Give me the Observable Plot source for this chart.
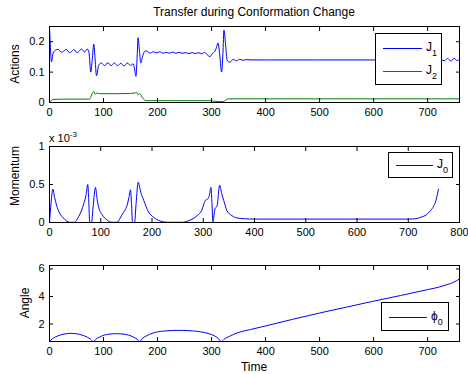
<!DOCTYPE html>
<html><head><meta charset="utf-8">
<script src="https://cdn.jsdelivr.net/npm/d3@7"></script>
<script src="https://cdn.jsdelivr.net/npm/@observablehq/plot@0.6"></script>
<style>
body{margin:0;background:#fff;}
#chart{position:relative;width:468px;height:374px;font-family:"Liberation Sans",Arial,Helvetica,sans-serif;color:#000;overflow:hidden;background:#fff}
.panel{position:absolute;left:0}
.txt{position:absolute;white-space:nowrap;line-height:1}
.rot{transform:translate(-50%,-50%) rotate(-90deg)}
.ctr{transform:translate(-50%,-50%)}
.legend{position:absolute;border:1px solid #000;background:#fff;box-sizing:border-box}
.lsvg{position:absolute;left:0;top:0;overflow:visible}
.ltxt{position:absolute;font-size:12px;line-height:1;white-space:nowrap}
.ltxt sub{font-size:9px;vertical-align:-5px}
</style></head><body><div id="chart"></div>
<script>
// ---- data ----
const titleText = "Transfer during Conformation Change";
const xLabel = "Time";
const yLabels = ["Actions", "Momentum", "Angle"];

const timeJ1 = [0,1.5,3.7,6.8,11,16,22,27,31,37,41,45,51,55,59,65,69.7,73,76.5,79,82,84.5,87,91,96,102,108,114,120,126,132,138,144,150,155,157.5,160,162,164,166.5,169,172,176,180,186,192,198,204,210,216,222,228,234,240,246,252,258,264,270,276,282,287,291,297,302,306,309,312,315.5,318.5,321,323,326,329,334,340,346,352,358,365,375,400,500,600,700,725,731,737,743,749,755,759];
const actionJ1 = [0.248,0.19,0.134,0.163,0.172,0.175,0.165,0.17,0.175,0.164,0.168,0.174,0.164,0.169,0.176,0.166,0.176,0.165,0.1,0.14,0.192,0.14,0.088,0.122,0.13,0.121,0.131,0.121,0.13,0.121,0.129,0.12,0.13,0.122,0.127,0.11,0.086,0.14,0.213,0.17,0.13,0.15,0.168,0.17,0.162,0.167,0.163,0.167,0.162,0.165,0.162,0.166,0.162,0.165,0.162,0.164,0.161,0.164,0.161,0.164,0.16,0.165,0.159,0.151,0.162,0.168,0.18,0.196,0.15,0.1,0.16,0.238,0.19,0.138,0.133,0.142,0.137,0.142,0.139,0.141,0.14,0.14,0.14,0.14,0.14,0.14,0.137,0.145,0.136,0.145,0.138,0.141];

const timeJ2 = [0,3,6,20,40,60,74,77,79,82,85,88,92,110,130,150,158,161,164,167,170,174,180,220,260,300,305,315,322,327,332,400,500,600,700,759];
const actionJ2 = [0.0,0.005,0.01,0.011,0.011,0.011,0.011,0.02,0.029,0.036,0.027,0.032,0.029,0.029,0.029,0.03,0.031,0.034,0.025,0.03,0.022,0.011,0.006,0.006,0.006,0.006,0.004,0.003,0.003,0.009,0.012,0.012,0.012,0.012,0.012,0.012];

const timeJ0 = [0,3,6.5,10,15,21,27,33,40,48,53,57,62,67,71,74.7,76.5,78.5,82,85,89.7,93,96,103,113,122,132,138,144,148,152,155,158,160,162,166,169,173,178,184,193,203,216,230,260,270,280,288,297,304,309,312,315,317,319,321,323,327,332,336,340,346,356,366,380,400,500,600,700,715,725,735,744,750,754,759];
const momentumJ0 = [0,0.25,0.44,0.33,0.2,0.11,0.06,0.02,0.003,0.003,0.03,0.08,0.15,0.25,0.35,0.5,0.3,0.0,0.0,0.2,0.46,0.3,0.2,0.1,0.03,0.003,0.003,0.06,0.13,0.17,0.24,0.33,0.43,0.25,0,0,0.25,0.53,0.4,0.29,0.14,0.07,0.02,0.003,0.003,0.02,0.05,0.09,0.16,0.29,0.31,0.36,0.46,0.25,0,0.1,0.18,0.22,0.49,0.38,0.29,0.16,0.09,0.06,0.05,0.045,0.045,0.045,0.045,0.05,0.07,0.1,0.16,0.22,0.29,0.44];

const timePhi = [0,5,10,20,30,40,50,60,70,76,81,86,92,102,112,124,136,146,156,162,167,172,180,190,200,215,240,265,280,295,305,312,318,325,333,341,355,372,400,450,500,550,600,650,700,720,736,748,759];
const anglePhi = [0.73,0.92,1.04,1.2,1.29,1.32,1.29,1.2,1.04,0.9,0.73,0.9,1.04,1.2,1.27,1.3,1.27,1.2,1.04,0.9,0.73,0.95,1.15,1.32,1.43,1.5,1.54,1.5,1.43,1.3,1.15,0.97,0.73,0.95,1.1,1.25,1.45,1.6,1.86,2.34,2.8,3.23,3.66,4.07,4.5,4.67,4.86,5.03,5.27];

const ticksX1 = [0,100,200,300,400,500,600,700];
const ticksX2 = [0,100,200,300,400,500,600,700,800];
const ticksY1 = [0,0.1,0.2];
const ticksY2 = [0,0.5,1];
const ticksY3 = [2,4,6];
const legend1 = ["J","1","J","2"];
const legend2 = ["J","0"];
const legend3 = ["\u03D5","0"];
const expLabel = ["x 10","-3"];

const BLUE = "#0000ff", GREEN = "#008000";
const FONT = '"Liberation Sans", Arial, Helvetica, sans-serif';

function zip(t, v) { return t.map((d, i) => ({t: d, v: v[i]})); }

function panel({height, mt, mb, xDomain, xTicks, yDomain, yTicks, yFormat, lines}) {
  return Plot.plot({
    width: 468, height, marginLeft: 49, marginRight: 9, marginTop: mt, marginBottom: mb,
    style: {fontFamily: FONT, fontSize: "11px", background: "transparent", color: "#000", overflow: "visible"},
    x: {domain: xDomain, label: null},
    y: {domain: yDomain, label: null},
    marks: [
      ...lines.map(l => Plot.line(l.data, {x: "t", y: "v", stroke: l.color, strokeWidth: 1, curve: "monotone-x", clip: true})),
      Plot.frame({stroke: "#000", strokeWidth: 1}),
      Plot.axisX(xTicks, {anchor: "bottom", tickSize: -4, tickPadding: 10, label: null, tickFormat: d => String(d)}),
      Plot.axisX(xTicks, {anchor: "top", tickSize: -4, tickFormat: () => "", label: null}),
      Plot.axisY(yTicks, {anchor: "left", tickSize: -4, tickPadding: 9, tickFormat: yFormat, label: null}),
      Plot.axisY(yTicks, {anchor: "right", tickSize: -4, tickFormat: () => "", label: null})
    ]
  });
}

const chart = document.getElementById("chart");
function place(el, top) { el.classList.add("panel"); el.style.top = top + "px"; chart.appendChild(el); }

place(panel({height: 120, mt: 26, mb: 18, xDomain: [0, 759], xTicks: ticksX1, yDomain: [0, 0.25], yTicks: ticksY1,
  yFormat: d => d === 0 ? "0" : String(d),
  lines: [{data: zip(timeJ1, actionJ1), color: BLUE}, {data: zip(timeJ2, actionJ2), color: GREEN}]}), 0);
place(panel({height: 120, mt: 26, mb: 18, xDomain: [0, 800], xTicks: ticksX2, yDomain: [0, 1], yTicks: ticksY2,
  yFormat: d => String(d),
  lines: [{data: zip(timeJ0, momentumJ0), color: BLUE}]}), 120);
place(panel({height: 134, mt: 25, mb: 33, xDomain: [0, 759], xTicks: ticksX1, yDomain: [0.73, 6.25], yTicks: ticksY3,
  yFormat: d => String(d),
  lines: [{data: zip(timePhi, anglePhi), color: BLUE}]}), 240);

function text(html, x, y, size, cls) {
  const d = document.createElement("div");
  d.className = "txt " + cls;
  d.style.left = x + "px"; d.style.top = y + "px"; d.style.fontSize = size + "px";
  d.innerHTML = html; chart.appendChild(d); return d;
}
text(titleText, 254, 12, 12, "ctr");
text(xLabel, 254, 367, 12, "ctr");
text(yLabels[0], 15, 64, 12, "rot");
text(yLabels[1], 15, 176, 12, "rot");
text(yLabels[2], 25, 302.5, 12, "rot");
text(expLabel[0] + '<sup style="font-size:8px;vertical-align:5px">' + expLabel[1] + '</sup>', 49, 131, 11, "");

const SVGNS = "http://www.w3.org/2000/svg";
function legend(box, entries) {
  const L = document.createElement("div");
  L.className = "legend";
  Object.assign(L.style, {left: box.x + "px", top: box.y + "px", width: box.w + "px", height: box.h + "px"});
  const s = document.createElementNS(SVGNS, "svg");
  s.setAttribute("class", "lsvg");
  s.setAttribute("width", box.w); s.setAttribute("height", box.h);
  L.appendChild(s);
  entries.forEach(e => {
    const ln = document.createElementNS(SVGNS, "line");
    ln.setAttribute("x1", e.x1); ln.setAttribute("x2", e.x2);
    ln.setAttribute("y1", e.y + 0.5); ln.setAttribute("y2", e.y + 0.5);
    ln.setAttribute("stroke", e.color); ln.setAttribute("stroke-width", 1);
    s.appendChild(ln);
    const t = document.createElement("div");
    t.className = "ltxt";
    Object.assign(t.style, {left: e.tx + "px", top: (e.y - 7) + "px"});
    t.innerHTML = e.label + "<sub>" + e.sub + "</sub>";
    L.appendChild(t);
  });
  chart.appendChild(L);
}
legend({x: 375, y: 33, w: 67, h: 52}, [
  {x1: 7, x2: 46, y: 14, color: BLUE, tx: 50, label: legend1[0], sub: legend1[1]},
  {x1: 7, x2: 46, y: 37, color: GREEN, tx: 50, label: legend1[2], sub: legend1[3]}
]);
legend({x: 388, y: 152, w: 65, h: 26}, [
  {x1: 7, x2: 44, y: 12, color: BLUE, tx: 48, label: legend2[0], sub: legend2[1]}
]);
legend({x: 381, y: 302, w: 68, h: 29}, [
  {x1: 7, x2: 45, y: 14, color: BLUE, tx: 49, label: legend3[0], sub: legend3[1]}
]);
</script>
</body></html>
